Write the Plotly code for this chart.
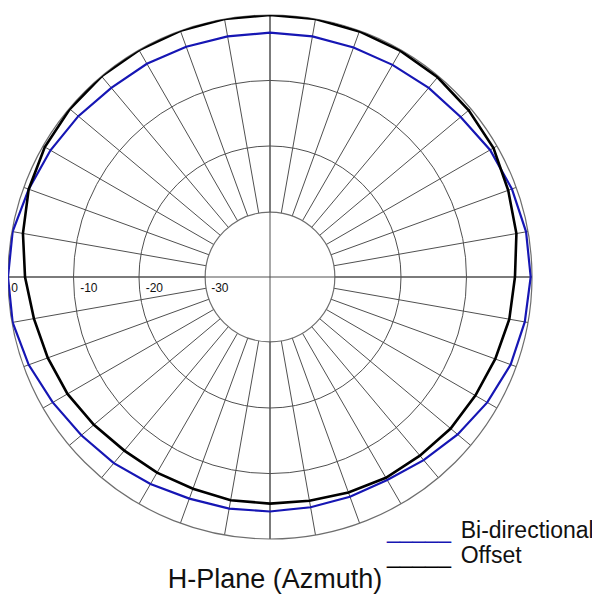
import plotly.graph_objects as go

# azimuth angles (deg), one reading every 10 degrees
angles = list(range(0, 360, 10))

# relative gain in dB
bidirectional_db = [-0.2, -0.3, -0.7, -1.2, -2.0, -2.3, -2.6, -2.7, -2.7,
                    -2.7, -2.7, -2.6, -2.4, -2.3, -1.8, -1.3, -0.8, -0.1,
                    0.0, -0.1, -0.8, -1.7, -2.4, -2.9, -3.5, -4.0, -4.1,
                    -4.2, -4.3, -4.3, -4.2, -3.5, -2.6, -1.7, -0.9, -0.5]
offset_db = [-2.6, -1.8, -1.3, -0.6, -0.4, -0.2, -0.15, -0.1, 0.0,
             0.0, 0.0, 0.0, 0.0, 0.0, -0.1, -0.3, -0.8, -1.7,
             -2.6, -3.4, -3.9, -4.3, -4.9, -5.4, -5.5, -5.6, -5.4,
             -5.4, -5.3, -5.0, -4.6, -4.4, -4.0, -3.8, -3.4, -2.9]

series_names = ["Bi-directional", "Offset"]
series_colors = ["#1616b4", "#000000"]
ring_values = [0, -10, -20, -30]
ring_labels = ["0", "-10", "-20", "-30"]
spoke_angles = list(range(0, 360, 10))
title_text = "H-Plane (Azmuth)"

FONT = "Liberation Sans, Arial, sans-serif"
GRID = "#505050"
NB = "\u00a0"
W = H = 600  # page has an 8px body margin, positions below are figure px


def closed(vals):
    return vals + vals[:1]


def pad(label):
    # small gap between the ring and its label
    return NB * max(1, len(label) - 1) + label


fig = go.Figure()
# placeholder so the spoke/ring subplot gets drawn
fig.add_trace(go.Scatterpolar(r=[None], theta=[None], mode="lines",
                              subplot="polar", showlegend=False,
                              hoverinfo="skip"))
for name, vals, color, width in zip(series_names, [bidirectional_db, offset_db],
                                    series_colors, [2.2, 2.6]):
    fig.add_trace(go.Scatterpolar(
        r=closed(vals), theta=closed(angles), mode="lines", name=name,
        line=dict(color=color, width=width), subplot="polar2", showlegend=False))

dom = dict(x=[0, 524 / W], y=[69 / H, 593 / H])

fig.update_layout(
    width=W, height=H,
    margin=dict(l=0, r=0, t=0, b=0),
    paper_bgcolor="white",
    font=dict(family=FONT, color="#111111"),
    # spokes + rings, spokes start at the -30 ring
    polar=dict(
        domain=dom, hole=0.2475, bgcolor="white",
        radialaxis=dict(range=[-30.1, 0], tickvals=[-30, -20, -10],
                        showticklabels=False, ticks="", showline=False,
                        gridcolor=GRID, gridwidth=1),
        angularaxis=dict(tickmode="array", tickvals=spoke_angles,
                         showticklabels=False, ticks="", gridcolor=GRID,
                         gridwidth=1, showline=True, linecolor="#6e6e6e",
                         linewidth=1.2),
    ),
    # full cross through the centre, ring labels and the traces
    polar2=dict(
        domain=dom, bgcolor="rgba(0,0,0,0)",
        radialaxis=dict(range=[-40, 0], angle=180, side="counterclockwise",
                        tickangle=180,
                        tickmode="array", tickvals=ring_values,
                        ticktext=[pad(t) for t in ring_labels],
                        showgrid=False, showline=False, ticks="",
                        tickfont=dict(family=FONT, size=12, color="#111111")),
        angularaxis=dict(tickmode="array", tickvals=[0, 90, 180, 270],
                         showticklabels=False, ticks="", gridcolor=GRID,
                         gridwidth=1, showline=False),
    ),
    title=dict(text=title_text, x=267 / W, xanchor="center",
               y=1 - 571 / H, yanchor="middle",
               font=dict(family=FONT, size=27, color="#111111")),
)

# legend drawn as text: underscores give the baseline line sample
for i, (name, color) in enumerate(zip(series_names, series_colors)):
    fig.add_annotation(
        text=(f"<span style='color:{color}'>_____</span>"
              f"<span style='font-size:12px'>{NB}</span> {name}"),
        xref="paper", yref="paper", x=376 / W, xanchor="left",
        y=1 - (522 + 25 * i) / H, yanchor="middle", showarrow=False,
        font=dict(family=FONT, size=23, color="#111111"))

fig.write_html("out.html")
